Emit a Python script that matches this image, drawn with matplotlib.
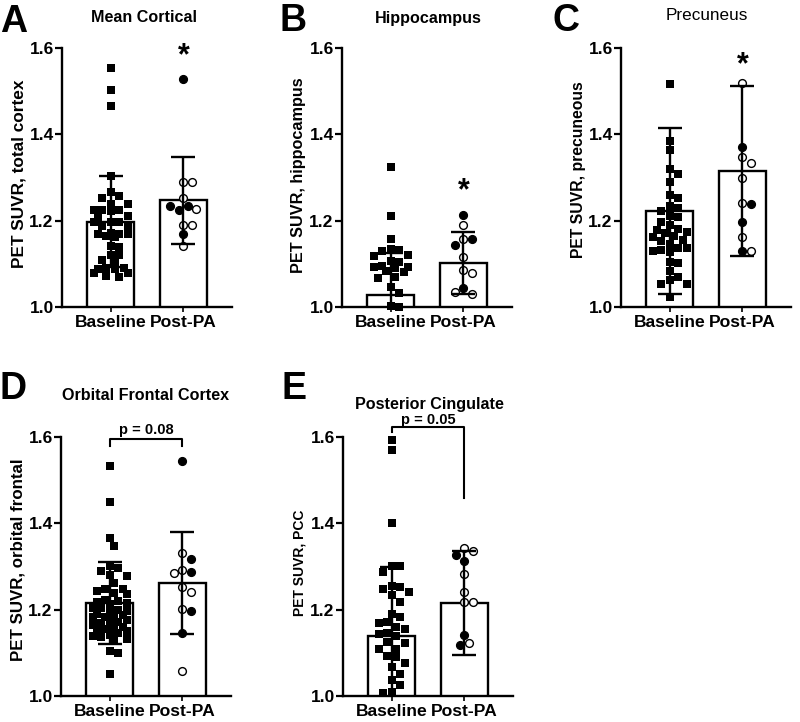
import numpy as np
import matplotlib.pyplot as plt

plt.rcParams['font.family'] = ['Liberation Sans', 'DejaVu Sans']
plt.rcParams['font.weight'] = 'bold'

groups = ['Baseline', 'Post-PA']

# ---- data ----
# A  Mean Cortical
cortical_base = [1.554, 1.502, 1.466, 1.303, 1.266, 1.256, 1.252, 1.239, 1.239,
                 1.224, 1.224, 1.224, 1.222, 1.210, 1.208, 1.198, 1.197, 1.196,
                 1.187, 1.186, 1.171, 1.170, 1.169, 1.168, 1.164, 1.162, 1.142,
                 1.140, 1.121, 1.120, 1.110, 1.102, 1.091, 1.090, 1.089, 1.088,
                 1.079, 1.078, 1.071, 1.070]
cortical_post = [1.528, 1.289, 1.289, 1.253, 1.235, 1.225, 1.227, 1.235, 1.191,
                 1.168, 1.191, 1.141]
cortical_post_filled = [1, 0, 0, 0, 1, 1, 0, 1, 0, 1, 0, 0]
cortical_mean = [1.198, 1.247]
cortical_sd = [0.105, 0.100]

# B  Hippocampus
hippo_base = [1.325, 1.211, 1.157, 1.134, 1.132, 1.130, 1.121, 1.119, 1.106,
              1.104, 1.094, 1.093, 1.092, 1.091, 1.083, 1.081, 1.070, 1.068,
              1.047, 1.032, 1.002, 1.001]
hippo_post = [1.213, 1.190, 1.157, 1.157, 1.143, 1.115, 1.086, 1.078, 1.043,
              1.031, 1.035]
hippo_post_filled = [1, 0, 0, 1, 1, 0, 0, 0, 1, 0, 0]
hippo_mean = [1.028, 1.102]
hippo_sd = [0.097, 0.072]

# C  Precuneus
precun_base = [1.517, 1.385, 1.364, 1.320, 1.307, 1.290, 1.259, 1.252, 1.235,
               1.230, 1.222, 1.211, 1.209, 1.197, 1.189, 1.180, 1.179, 1.174,
               1.172, 1.165, 1.162, 1.155, 1.153, 1.146, 1.137, 1.136, 1.132,
               1.130, 1.128, 1.104, 1.102, 1.084, 1.069, 1.063, 1.054, 1.053,
               1.023]
precun_post = [1.519, 1.370, 1.347, 1.334, 1.300, 1.241, 1.238, 1.196, 1.163,
               1.129, 1.130]
precun_post_filled = [0, 1, 0, 0, 0, 0, 1, 1, 0, 1, 0]
precun_mean = [1.222, 1.315]
precun_sd = [0.192, 0.196]

# D  Orbital Frontal Cortex
orbital_base = [1.533, 1.450, 1.365, 1.347, 1.300, 1.296, 1.290, 1.280, 1.279,
                1.261, 1.249, 1.248, 1.244, 1.239, 1.236, 1.222, 1.220, 1.218,
                1.216, 1.212, 1.205, 1.203, 1.200, 1.198, 1.196, 1.190, 1.188,
                1.186, 1.184, 1.182, 1.175, 1.172, 1.170, 1.168, 1.165, 1.160,
                1.158, 1.155, 1.152, 1.150, 1.145, 1.142, 1.140, 1.137, 1.132,
                1.128, 1.105, 1.100, 1.051]
orbital_post = [1.544, 1.332, 1.317, 1.293, 1.288, 1.286, 1.253, 1.242, 1.202,
                1.198, 1.145, 1.058]
orbital_post_filled = [1, 0, 1, 0, 1, 0, 0, 0, 0, 1, 1, 0]
orbital_mean = [1.215, 1.262]
orbital_sd = [0.095, 0.119]

# E  Posterior Cingulate
pcc_base = [1.593, 1.570, 1.401, 1.302, 1.301, 1.288, 1.255, 1.253, 1.247,
            1.242, 1.234, 1.218, 1.190, 1.184, 1.172, 1.168, 1.160, 1.155,
            1.147, 1.143, 1.140, 1.126, 1.123, 1.110, 1.109, 1.093, 1.090,
            1.076, 1.068, 1.051, 1.037, 1.025, 1.010, 1.008]
pcc_post = [1.344, 1.337, 1.327, 1.313, 1.283, 1.242, 1.217, 1.217, 1.141,
            1.123, 1.118]
pcc_post_filled = [0, 0, 1, 1, 0, 0, 0, 0, 1, 0, 1]
pcc_mean = [1.139, 1.215]
pcc_sd = [0.160, 0.120]

# ---- layout ----
W, H = 800, 722
fig = plt.figure(figsize=(W / 100, H / 100), dpi=100)

PPX = 73.0    # pixels per category unit
PPY = 432.0   # pixels per SUVR unit


def swarm(values, d=8.6, maxoff=20.0):
    """simple beeswarm: horizontal offsets (data units), kept inside the bar"""
    placed = []
    offs = []
    step = d * 0.5
    cands = [0.0]
    i = 1
    while i * step <= maxoff:
        cands += [i * step, -i * step]
        i += 1
    for v in values:
        y = v * PPY
        best, best_gap = None, -1.0
        for c in cands:
            gap = min([np.hypot(c - px, y - py) for px, py in placed] or [1e9])
            if gap >= d:
                best = c
                break
            if gap > best_gap:
                best, best_gap = c, gap
        placed.append((best, y))
        offs.append(best / PPX)
    return np.array(offs)


def panel(left_px, bottom_px, base, post, filled, means, sds, ylabel,
          lab_size, lab_y):
    ax = fig.add_axes([left_px / W, 1 - bottom_px / H, 170 / W, 259 / H])
    x = np.arange(2)
    ax.bar(x, means, width=0.64, color='white', edgecolor='black',
           linewidth=1.7, zorder=2)
    bx = swarm(base)
    ax.plot(0 + bx, base, 's', ms=5.9, color='black', mew=0, zorder=3,
            clip_on=False)
    px = swarm(post, d=8.8)
    post = np.array(post)
    filled = np.array(filled, dtype=bool)
    ax.plot(1 + px[filled], post[filled], 'o', ms=5.6, mfc='black',
            mec='black', mew=1.0, zorder=3, clip_on=False)
    ax.plot(1 + px[~filled], post[~filled], 'o', ms=5.6, mfc='white',
            mec='black', mew=1.0, zorder=3, clip_on=False)
    ax.errorbar(x, means, yerr=sds, fmt='none', ecolor='black',
                elinewidth=1.7, capsize=8.8, capthick=1.7, zorder=4)
    ax.set_xlim(-0.67, 1.67)
    ax.set_ylim(1.0, 1.6)
    ax.set_yticks([1.0, 1.2, 1.4, 1.6])
    ax.set_yticklabels(['1.0', '1.2', '1.4', '1.6'])
    ax.set_xticks(x)
    ax.set_xticklabels(groups)
    for s in ['top', 'right']:
        ax.spines[s].set_visible(False)
    for s in ['left', 'bottom']:
        ax.spines[s].set_linewidth(1.7)
    ax.tick_params(axis='y', length=5, width=1.6, pad=1, labelsize=12.5)
    ax.tick_params(axis='x', length=3.5, width=1.2, pad=2, labelsize=12.6)
    ax.set_ylabel(ylabel, fontsize=lab_size, fontweight='bold')
    # label centre: 43 px left of the spine, lab_y px from the figure top
    ax.yaxis.set_label_coords(-43 / 170, (bottom_px - lab_y) / 259)
    ax.yaxis.label.set_va('center')
    return ax


def fig_text(xp, yp, s, **kw):
    fig.text(xp / W, 1 - yp / H, s, **kw)


axA = panel(62, 307, cortical_base, cortical_post, cortical_post_filled,
            cortical_mean, cortical_sd, 'PET SUVR, total cortex', 12.4, 174)
axB = panel(342, 307, hippo_base, hippo_post, hippo_post_filled,
            hippo_mean, hippo_sd, 'PET SUVR, hippocampus', 11.7, 175)
axC = panel(621, 307, precun_base, precun_post, precun_post_filled,
            precun_mean, precun_sd, 'PET SUVR, precuneous', 11.3, 170)
axD = panel(61, 696, orbital_base, orbital_post, orbital_post_filled,
            orbital_mean, orbital_sd, 'PET SUVR, orbital frontal', 12.2, 560)
axE = panel(343, 696, pcc_base, pcc_post, pcc_post_filled,
            pcc_mean, pcc_sd, 'PET SUVR, PCC', 10.0, 563)

# titles and panel letters
titles = [(144, 17, 'Mean Cortical', 'bold'), (428, 19, 'Hippocampus', 'bold'),
          (707, 16, 'Precuneus', 'normal'),
          (146, 395, 'Orbital Frontal Cortex', 'bold'),
          (429, 404, 'Posterior Cingulate', 'bold')]
for xp, yp, t, wt in titles:
    fig_text(xp, yp, t, ha='center', va='center',
             fontsize=12.3 if wt == 'normal' else 11.6, fontweight=wt)

letters = [(0, 32, 'A'), (279, 31, 'B'), (552, 31, 'C'), (0, 399, 'D'),
           (281, 399, 'E')]
for xp, yp, t in letters:
    fig_text(xp, yp, t, ha='left', va='baseline', fontsize=27,
             fontweight='bold')

# significance stars
for ax, yv in [(axA, 1.600), (axB, 1.289), (axC, 1.579)]:
    ax.annotate('*', (1, yv), xytext=(0, -12), textcoords='offset points',
                ha='center', va='baseline', fontsize=22, fontweight='bold',
                annotation_clip=False)

# brackets
axD.plot([0, 0, 1, 1], [1.578, 1.595, 1.595, 1.578], color='black',
         lw=1.5, clip_on=False)
axD.text(0.5, 1.607, 'p = 0.08', ha='center', va='baseline', fontsize=10.5,
         fontweight='bold')
axE.plot([0, 0, 1, 1], [1.612, 1.624, 1.624, 1.458], color='black',
         lw=1.5, clip_on=False)
axE.text(0.5, 1.630, 'p = 0.05', ha='center', va='baseline', fontsize=10.5,
         fontweight='bold')

fig.savefig('out.png', dpi=100)
